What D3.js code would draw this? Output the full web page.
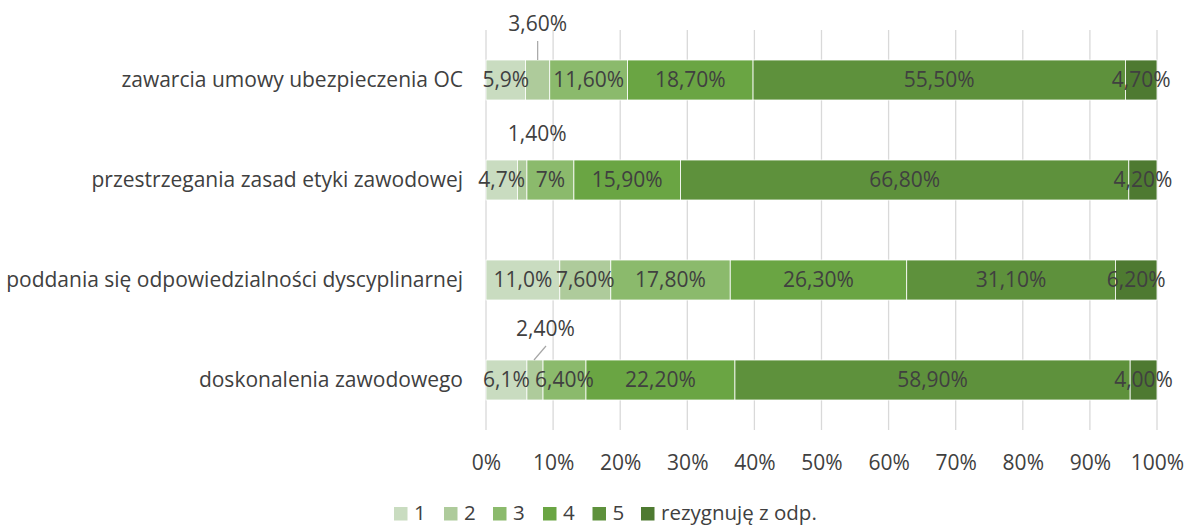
<!DOCTYPE html>
<html><head><meta charset="utf-8">
<script src="https://cdn.jsdelivr.net/npm/d3@7"></script>
<style>body{margin:0;background:#fff}svg{display:block}text{font-family:"Open Sans",sans-serif;fill:#404040}</style>
</head><body>
<svg id="c" width="1187" height="526"></svg>
<script>
const categories = ["zawarcia umowy ubezpieczenia OC","przestrzegania zasad etyki zawodowej","poddania się odpowiedzialności dyscyplinarnej","doskonalenia zawodowego"];
const seriesNames = ["1","2","3","4","5","rezygnuję z odp."];
const s1 = [5.9, 4.7, 11.0, 6.1];
const s2 = [3.6, 1.4, 7.6, 2.4];
const s3 = [11.6, 7.0, 17.8, 6.4];
const s4 = [18.7, 15.9, 26.3, 22.2];
const s5 = [55.5, 66.8, 31.1, 58.9];
const s6 = [4.7, 4.2, 6.2, 4.0];
const labels1 = ["5,9%","4,7%","11,0%","6,1%"];
const labels2 = ["3,60%","1,40%","7,60%","2,40%"];
const labels3 = ["11,60%","7%","17,80%","6,40%"];
const labels4 = ["18,70%","15,90%","26,30%","22,20%"];
const labels5 = ["55,50%","66,80%","31,10%","58,90%"];
const labels6 = ["4,70%","4,20%","6,20%","4,00%"];
const tickValues = [0,10,20,30,40,50,60,70,80,90,100];
const colors = ["#c9dcc0","#aecb9b","#8bba6c","#6aa543","#5e913c","#4e7a31"];

const series = [s1,s2,s3,s4,s5,s6];
const labelSets = [labels1,labels2,labels3,labels4,labels5,labels6];
const svg = d3.select("#c");
const x = d3.scaleLinear().domain([0,100]).range([486,1157]);
const y = d3.scaleBand().domain(categories).range([30,430]).paddingInner(0.6).paddingOuter(0.3);

// gridlines
svg.append("g").selectAll("line").data(tickValues).join("line")
  .attr("x1",d=>x(d)).attr("x2",d=>x(d)).attr("y1",30).attr("y2",430)
  .attr("stroke","#d9d9d9").attr("stroke-width",1.3);

// stack
const rows = categories.map((c,i)=>{const o={cat:c}; series.forEach((s,j)=>o["k"+j]=s[i]); return o;});
const stack = d3.stack().keys(seriesNames.map((_,j)=>"k"+j))(rows);

const g = svg.append("g");
stack.forEach((layer,j)=>{
  g.append("g").selectAll("rect").data(layer).join("rect")
    .attr("x",d=>x(d[0])).attr("width",d=>x(d[1])-x(d[0]))
    .attr("y",d=>y(d.data.cat)).attr("height",y.bandwidth())
    .attr("fill",colors[j]).attr("stroke","#fff").attr("stroke-width",0.8);
});

// labels
const fs = 21;
stack.forEach((layer,j)=>{
  layer.forEach((d,i)=>{
    const cx = x((d[0]+d[1])/2), cy = y(d.data.cat)+y.bandwidth()/2;
    let tx = cx, ty = cy;
    if (j===1 && i!==2) {
      const offs = {0:[0,-56],1:[15,-46],3:[10.5,-51]}[i];
      tx = cx+offs[0]; ty = cy+offs[1];
      if (i===0) g.append("line").attr("x1",cx).attr("x2",cx).attr("y1",y(d.data.cat)-19).attr("y2",y(d.data.cat)).attr("stroke","#a6a6a6").attr("stroke-width",1.2);
      if (i===3) g.append("line").attr("x1",cx+11).attr("x2",cx-1).attr("y1",y(d.data.cat)-14).attr("y2",y(d.data.cat)).attr("stroke","#a6a6a6").attr("stroke-width",1.2);
    }
    g.append("text").attr("x",tx).attr("y",ty).attr("dy","0.35em").attr("text-anchor","middle")
      .attr("font-size",fs).text(labelSets[j][i]);
  });
});

// category axis labels
svg.append("g").selectAll("text").data(categories).join("text")
  .attr("x",463).attr("y",d=>y(d)+y.bandwidth()/2).attr("dy","0.35em")
  .attr("text-anchor","end").attr("font-size",fs).attr("fill","#595959").text(d=>d);

// x axis
const xa = svg.append("g").attr("transform","translate(0,452)")
  .call(d3.axisBottom(x).tickValues(tickValues).tickFormat(d=>d+"%").tickSize(0));
xa.select(".domain").remove();
xa.selectAll("text").attr("font-size",fs).attr("font-family","'Open Sans',sans-serif").attr("fill","#595959");

// legend
const legX = [394,444,493,543,592.5,641];
const leg = svg.append("g").selectAll("g").data(seriesNames).join("g")
  .attr("transform",(d,i)=>`translate(${legX[i]},507)`);
leg.append("rect").attr("width",13.5).attr("height",13.5).attr("fill",(d,i)=>colors[i]);
leg.append("text").attr("x",20).attr("y",13).attr("font-size",20.5).attr("fill","#595959").text(d=>d);
</script>
</body></html>
